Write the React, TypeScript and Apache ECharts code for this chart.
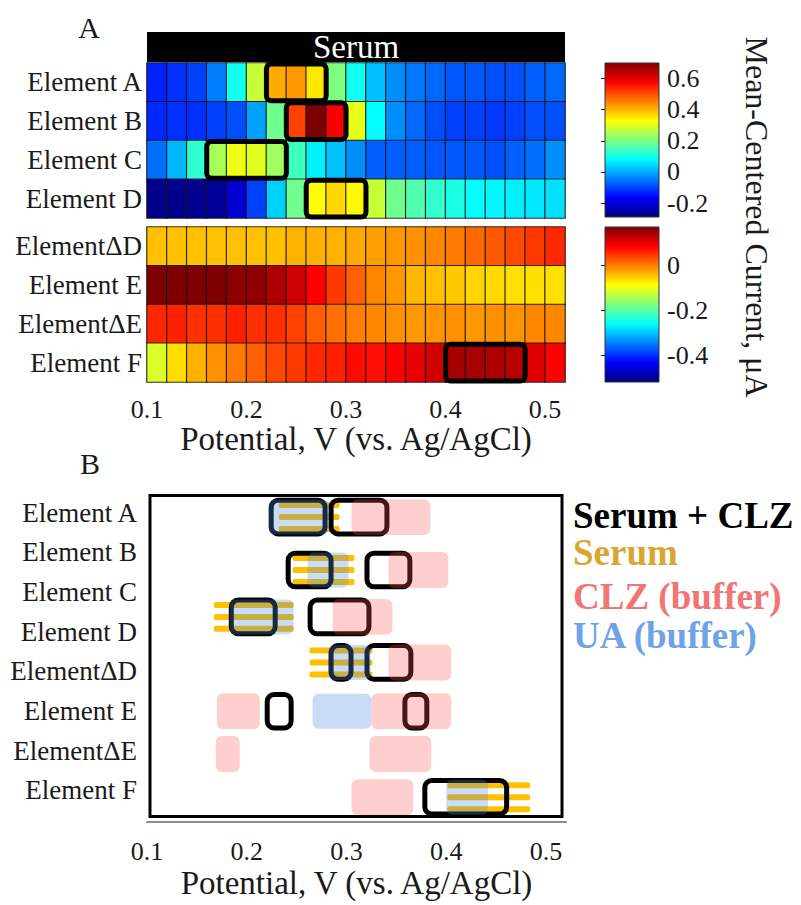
import React, { useEffect, useRef } from "react";
import * as echarts from "echarts";

// ---------- Data ----------
const potentialColumns = ["0.10", "0.12", "0.14", "0.16", "0.18", "0.20", "0.22", "0.24", "0.26", "0.28", "0.30",
  "0.32", "0.34", "0.36", "0.38", "0.40", "0.42", "0.44", "0.46", "0.48", "0.50"];
const potentialTicks = [0.1, 0.2, 0.3, 0.4, 0.5];

const upperElements = ["Element A", "Element B", "Element C", "Element D"];
const lowerElements = ["ElementΔD", "Element E", "ElementΔE", "Element F"];
const panelBElements = ["Element A", "Element B", "Element C", "Element D", "ElementΔD", "Element E", "ElementΔE", "Element F"];

// Mean-centered current (µA), serum, upper block
const elementA = [-0.135, -0.12, -0.104, -0.042, 0.097, 0.275, 0.411, 0.428, 0.351, 0.205, 0.096, 0.02, -0.027, -0.05, -0.065, -0.081, -0.081, -0.089, -0.089, -0.073, -0.065];
const elementB = [-0.127, -0.12, -0.12, -0.104, -0.089, -0.011, 0.19, 0.514, 0.70, 0.585, 0.306, 0.081, -0.027, -0.065, -0.089, -0.104, -0.104, -0.112, -0.104, -0.089, -0.089];
const elementC = [-0.057, 0.012, 0.128, 0.245, 0.314, 0.299, 0.237, 0.143, 0.067, 0.02, -0.027, -0.073, -0.073, -0.073, -0.081, -0.081, -0.081, -0.089, -0.073, -0.057, -0.027];
const elementD = [-0.278, -0.278, -0.274, -0.266, -0.212, -0.104, 0.036, 0.19, 0.329, 0.366, 0.335, 0.275, 0.19, 0.159, 0.128, 0.105, 0.081, 0.074, 0.067, 0.058, 0.052];
// lower block
const elementDeltaD = [-0.046, -0.046, -0.046, -0.046, -0.046, -0.046, -0.046, -0.036, -0.036, -0.036, -0.03, -0.025, -0.019, -0.014, -0.008, 0.002, 0.013, 0.024, 0.035, 0.046, 0.057];
const elementE = [0.17, 0.17, 0.17, 0.17, 0.159, 0.159, 0.138, 0.115, 0.084, 0.046, 0.019, -0.008, -0.019, -0.04, -0.046, -0.052, -0.06, -0.063, -0.068, -0.068, -0.068];
const elementDeltaE = [0.057, 0.062, 0.051, 0.051, 0.062, 0.051, 0.051, 0.04, 0.019, 0.008, -0.003, -0.008, -0.014, -0.019, -0.016, -0.014, -0.019, -0.014, -0.016, -0.008, -0.008];
const elementF = [-0.115, -0.066, -0.036, -0.014, 0.002, 0.019, 0.035, 0.046, 0.057, 0.062, 0.078, 0.075, 0.084, 0.1, 0.115, 0.143, 0.143, 0.138, 0.132, 0.104, 0.084];

const upperValues = [elementA, elementB, elementC, elementD];
const lowerValues = [elementDeltaD, elementE, elementDeltaE, elementF];

// highlighted windows: [firstColumn, row, lastColumn]
const upperHighlights = [[6, 0, 8], [7, 1, 9], [3, 2, 6], [8, 3, 10]];
const lowerHighlights = [[15, 3, 18]];

const upperRange = [-0.29, 0.70];
const lowerRange = [-0.52, 0.17];
const upperBarTicks = [-0.2, 0, 0.2, 0.4, 0.6];
const lowerBarTicks = [-0.4, -0.2, 0];

// Panel B: row positions and windows [startV, endV, rowIndex]
const bRowY = [0.48, 1.63, 2.65, 3.64, 4.70, 5.63, 6.57];
const serumWindows = [[0.232, 0.293, 0], [0.246, 0.308, 1], [0.167, 0.247, 2], [0.263, 0.326, 3], [0.401, 0.484, 6]];
const serumClzWindows = [[0.222, 0.281, 0], [0.282, 0.343, 0], [0.239, 0.287, 1], [0.318, 0.366, 1], [0.182, 0.231, 2], [0.261, 0.325, 2],
  [0.282, 0.307, 3], [0.318, 0.367, 3], [0.218, 0.247, 4], [0.356, 0.383, 4], [0.376, 0.463, 6]];
const clzWindows = [[0.305, 0.384, 0], [0.342, 0.402, 1], [0.286, 0.346, 2], [0.342, 0.405, 3], [0.170, 0.213, 4], [0.325, 0.405, 4],
  [0.169, 0.193, 5], [0.323, 0.385, 5], [0.305, 0.367, 6]];
const uaWindows = [[0.222, 0.282, 0], [0.261, 0.302, 1], [0.183, 0.247, 2], [0.282, 0.324, 3], [0.266, 0.325, 4], [0.400, 0.442, 6]];

const legendEntries = ["Serum + CLZ", "Serum", "CLZ (buffer)", "UA (buffer)"];
const legendColors = ["#000000", "#D9A632", "#F07575", "#6FA3E8"];

// ---------- Styling ----------
const FONT = "'Liberation Serif','Times New Roman',serif";
const TXT = "#1a1a1a";
const JET = ["#00007F", "#0000FF", "#007FFF", "#00FFFF", "#7FFF7F", "#FFFF00", "#FF7F00", "#FF0000", "#7F0000"];
const jetGradient = () => ({
  type: "linear", x: 0, y: 1, x2: 0, y2: 0,
  colorStops: JET.map((c, i) => ({ offset: i / (JET.length - 1), color: c })),
});

const toWin = (arr: number[][]) => arr.map(([a, b, r]) => [a, bRowY[r], b]);

function highlightItem(_p: any, api: any) {
  const a = api.coord([api.value(0), api.value(1)]);
  const b = api.coord([api.value(2), api.value(1)]);
  const s = api.size([1, 1]);
  return {
    type: "rect",
    shape: { x: a[0] - s[0] / 2, y: a[1] - s[1] / 2 + 1, width: b[0] - a[0] + s[0], height: s[1] - 2, r: 5 },
    style: { fill: "none", stroke: "#000", lineWidth: 5 },
  };
}

function stripesItem(_p: any, api: any) {
  const a = api.coord([api.value(0), api.value(1)]);
  const b = api.coord([api.value(2), api.value(1)]);
  const u = api.size([0, 1])[1];
  const children = [-0.26, 0, 0.26].map((o) => ({
    type: "rect",
    shape: { x: a[0], y: a[1] + o * u - 0.065 * u, width: b[0] - a[0], height: 0.13 * u, r: 2 },
    style: { fill: "#FFC000" },
  }));
  return { type: "group", children };
}

function outlineItem(_p: any, api: any) {
  const a = api.coord([api.value(0), api.value(1)]);
  const b = api.coord([api.value(2), api.value(1)]);
  const u = api.size([0, 1])[1];
  const h = 0.84 * u;
  return {
    type: "rect",
    shape: { x: a[0] + 2.5, y: a[1] - h / 2 + 2.5, width: b[0] - a[0] - 5, height: h - 5, r: 7 },
    style: { fill: "none", stroke: "#000", lineWidth: 5 },
  };
}

const fillItem = (color: string, hf: number) => (_p: any, api: any) => {
  const a = api.coord([api.value(0), api.value(1)]);
  const b = api.coord([api.value(2), api.value(1)]);
  const u = api.size([0, 1])[1];
  const h = hf * u;
  return {
    type: "rect",
    shape: { x: a[0], y: a[1] - h / 2, width: b[0] - a[0], height: h, r: 6 },
    style: { fill: color },
  };
};

function buildOption() {
  const catX = (grid: number) => ({
    type: "category", gridIndex: grid, data: potentialColumns, show: false,
  });
  const rowAxis = (grid: number, data: string[], margin: number) => ({
    type: "category", gridIndex: grid, data, inverse: true,
    axisLine: { show: false }, axisTick: { show: false },
    axisLabel: { fontFamily: FONT, fontSize: 27, color: TXT, margin },
  });
  const heat = (grid: number, values: number[][]) => ({
    type: "heatmap", xAxisIndex: grid, yAxisIndex: grid, silent: true,
    data: values.flatMap((row, r) => row.map((v, c) => [c, r, v])),
    itemStyle: { borderColor: "rgba(20,20,20,0.85)", borderWidth: 1.2 },
    emphasis: { disabled: true },
  });
  const potentialAxis = (grid: number, offset: number, margin: number, nameGap: number, lineShow: boolean) => ({
    type: "value", gridIndex: grid, min: 0.1, max: 0.52, position: "bottom", offset,
    axisLine: { show: lineShow, onZero: false, lineStyle: { color: "#8c8c8c", width: 2 } },
    axisTick: { show: false }, splitLine: { show: false },
    axisLabel: { fontFamily: FONT, fontSize: 26, color: TXT, margin, customValues: potentialTicks },
    name: "Potential, V (vs. Ag/AgCl)", nameLocation: "middle", nameGap,
    nameTextStyle: { fontFamily: FONT, fontSize: 33, color: TXT },
  });
  const barAxis = (grid: number, range: number[], ticks: number[]) => ({
    type: "value", gridIndex: grid, min: range[0], max: range[1], position: "right",
    axisLine: { show: false }, splitLine: { show: false },
    axisTick: { show: true, inside: true, length: 4, lineStyle: { color: "#222" }, customValues: ticks },
    axisLabel: { fontFamily: FONT, fontSize: 26, color: TXT, margin: 8, customValues: ticks },
  });
  const winSeries = (data: number[][], renderItem: any) => ({
    type: "custom", xAxisIndex: 5, yAxisIndex: 4, silent: true, clip: false,
    encode: { x: [0, 2], y: 1 }, data, renderItem,
  });

  return {
    animation: false,
    backgroundColor: "#fff",
    grid: [
      { left: 147, top: 63, width: 418, height: 155 },
      { left: 147, top: 227, width: 418, height: 155 },
      { left: 605, top: 63, width: 54, height: 154 },
      { left: 605, top: 227, width: 54, height: 155 },
      { left: 147, top: 495, width: 419, height: 322 },
      { left: 147, top: 493, width: 416, height: 317 },
    ],
    xAxis: [
      catX(0),
      catX(1),
      { type: "value", gridIndex: 2, show: false, min: 0, max: 1 },
      { type: "value", gridIndex: 3, show: false, min: 0, max: 1 },
      potentialAxis(1, 0, 14, 22, false),
      potentialAxis(4, 5, 16, 44, true),
      { type: "value", gridIndex: 5, show: false, min: 0, max: 1 },
    ],
    yAxis: [
      rowAxis(0, upperElements, 5),
      rowAxis(1, lowerElements, 5),
      barAxis(2, upperRange, upperBarTicks),
      barAxis(3, lowerRange, lowerBarTicks),
      { type: "value", gridIndex: 4, min: 0, max: 7, inverse: true, show: false },
      rowAxis(5, panelBElements, 10),
    ],
    visualMap: [
      { type: "continuous", show: false, seriesIndex: 0, dimension: 2, min: upperRange[0], max: upperRange[1], inRange: { color: JET } },
      { type: "continuous", show: false, seriesIndex: 1, dimension: 2, min: lowerRange[0], max: lowerRange[1], inRange: { color: JET } },
    ],
    series: [
      heat(0, upperValues),
      heat(1, lowerValues),
      { type: "custom", xAxisIndex: 0, yAxisIndex: 0, silent: true, clip: false, encode: { x: [0, 2], y: 1 }, data: upperHighlights, renderItem: highlightItem, z: 5 },
      { type: "custom", xAxisIndex: 1, yAxisIndex: 1, silent: true, clip: false, encode: { x: [0, 2], y: 1 }, data: lowerHighlights, renderItem: highlightItem, z: 5 },
      winSeries(toWin(serumWindows), stripesItem),
      winSeries(toWin(serumClzWindows), outlineItem),
      winSeries(toWin(clzWindows), fillItem("rgba(255,80,80,0.28)", 0.78)),
      winSeries(toWin(uaWindows), fillItem("rgba(74,140,230,0.30)", 0.76)),
    ],
    graphic: [
      { type: "text", x: 89, y: 27, style: { text: "A", font: `30px ${FONT}`, fill: TXT, align: "center", verticalAlign: "middle" } },
      { type: "text", x: 90, y: 463, style: { text: "B", font: `30px ${FONT}`, fill: TXT, align: "center", verticalAlign: "middle" } },
      { type: "rect", shape: { x: 147, y: 32, width: 418, height: 30 }, style: { fill: "#000" } },
      { type: "text", x: 356, y: 47, style: { text: "Serum", font: `33px ${FONT}`, fill: "#fff", align: "center", verticalAlign: "middle" } },
      { type: "rect", z: -10, shape: { x: 605, y: 63, width: 54, height: 154 }, style: { fill: jetGradient(), stroke: "#333", lineWidth: 1 } },
      { type: "rect", z: -10, shape: { x: 605, y: 227, width: 54, height: 155 }, style: { fill: jetGradient(), stroke: "#333", lineWidth: 1 } },
      { type: "text", x: 757, y: 217, rotation: -Math.PI / 2, style: { text: "Mean-Centered Current, μA", font: `32px ${FONT}`, fill: TXT, align: "center", verticalAlign: "middle" } },
      { type: "rect", shape: { x: 150, y: 495.5, width: 412, height: 321 }, style: { fill: "none", stroke: "#000", lineWidth: 3 } },
      ...legendEntries.map((t, i) => ({
        type: "text", x: 573, y: [515, 552, 596, 635][i],
        style: { text: t, font: `bold 37px ${FONT}`, fill: legendColors[i], align: "left", verticalAlign: "middle" },
      })),
    ],
  };
}

export default function App() {
  const ref = useRef<HTMLDivElement>(null);
  useEffect(() => {
    const chart = echarts.init(ref.current as HTMLDivElement, null, { renderer: "svg" });
    chart.setOption(buildOption() as any);
    return () => chart.dispose();
  }, []);
  return (
    <div
      ref={ref}
      style={{ position: "absolute", left: 0, top: 0, width: 801, height: 905, background: "#fff" }}
    />
  );
}
